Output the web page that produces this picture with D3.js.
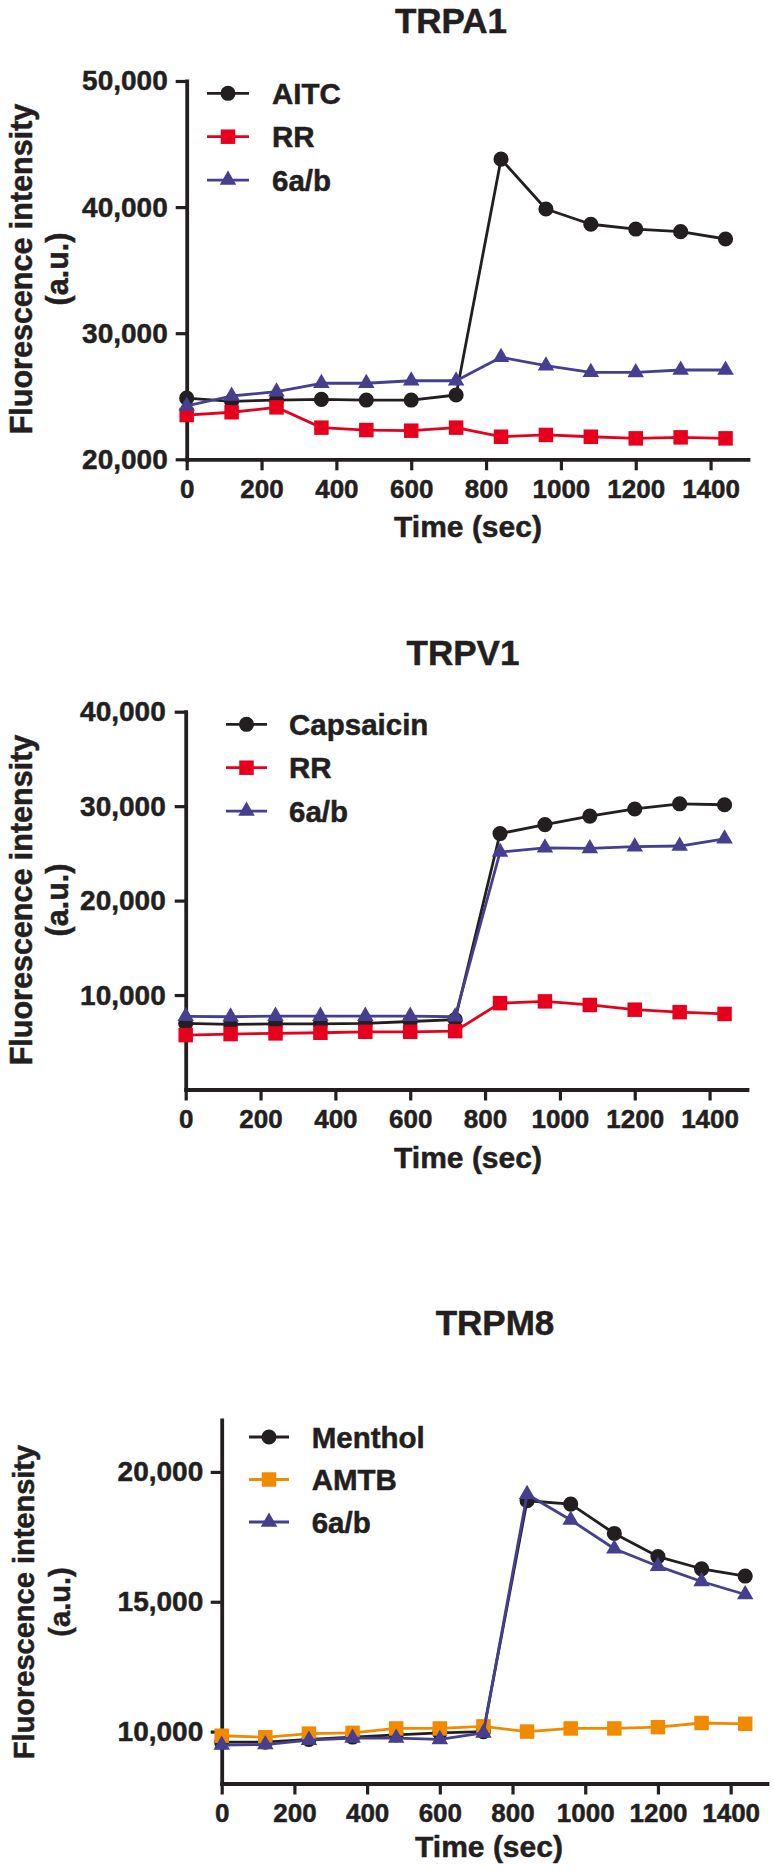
<!DOCTYPE html>
<html>
<head>
<meta charset="utf-8">
<script src="https://cdn.jsdelivr.net/npm/d3@7"></script>
<style>
  body { margin: 0; background: #fff; }
  svg text { font-family: "Liberation Sans", Arial, sans-serif; font-weight: bold; fill: #231f20;
             stroke: #231f20; stroke-width: 0.5px; }
</style>
</head>
<body>
<svg id="fig" width="774" height="1876"></svg>
<script>
// time points (sec) and x tick labels, shared by the three panels
var times = [0, 120, 240, 360, 480, 600, 720, 840, 960, 1080, 1200, 1320, 1440];
var xTicks = [0, 200, 400, 600, 800, 1000, 1200, 1400];

// TRPA1
var trpa1Names = ["AITC", "RR", "6a/b"];
var trpa1AITC = [24850, 24600, 24700, 24750, 24700, 24700, 25100, 43800, 39850, 38640, 38260, 38050, 37470];
var trpa1RR = [23510, 23730, 24120, 22510, 22320, 22270, 22510, 21790, 21930, 21790, 21660, 21740, 21660];
var trpa1Cpd = [24230, 25020, 25360, 26030, 26030, 26230, 26230, 28090, 27420, 26900, 26890, 27080, 27080];
var trpa1YTicks = [20000, 30000, 40000, 50000];

// TRPV1
var trpv1Names = ["Capsaicin", "RR", "6a/b"];
var trpv1Cap = [7000, 6900, 6950, 6950, 7000, 7200, 7400, 27100, 28050, 28950, 29700, 30250, 30150];
var trpv1RR = [5760, 5870, 5940, 6010, 6110, 6110, 6180, 9140, 9330, 8950, 8450, 8190, 8000];
var trpv1Cpd = [7750, 7700, 7770, 7770, 7770, 7770, 7700, 25140, 25590, 25520, 25710, 25780, 26540];
var trpv1YTicks = [10000, 20000, 30000, 40000];

// TRPM8
var trpm8Names = ["Menthol", "AMTB", "6a/b"];
var trpm8Menthol = [9590, 9590, 9700, 9790, 9870, 9950, 10000, 18890, 18760, 17630, 16740, 16270, 15990];
var trpm8AMTB = [9840, 9780, 9920, 9950, 10120, 10120, 10200, 10000, 10120, 10120, 10170, 10330, 10300];
var trpm8Cpd = [9480, 9500, 9670, 9750, 9750, 9700, 9950, 19140, 18150, 17040, 16370, 15780, 15280];
var trpm8YTicks = [10000, 15000, 20000];

var black = "#231f20", red = "#e6001e", blue = "#463f90", orange = "#f28a00";
var ink = "#231f20";

var svg = d3.select("#fig");

function drawPanel(cfg) {
  var g = svg.append("g");
  var x = d3.scaleLinear().domain([0, 1500]).range(cfg.xRange);
  var y = d3.scaleLinear().domain(cfg.yDomain).range(cfg.yRange);

  // title
  g.append("text").attr("x", cfg.titleX).attr("y", cfg.titleY)
    .attr("text-anchor", "middle").style("font-size", "35px").text(cfg.title);

  // axes
  var xAxis = d3.axisBottom(x).tickValues(xTicks).tickSize(11).tickSizeOuter(0).tickPadding(9).tickFormat(d3.format("d"));
  var yAxis = d3.axisLeft(y).tickValues(cfg.yTicks).tickSize(11).tickSizeOuter(0).tickPadding(cfg.yPad).tickFormat(d3.format(","));

  var gx = g.append("g").attr("transform", "translate(0," + cfg.yRange[0] + ")").call(xAxis);
  var gy = g.append("g").attr("transform", "translate(" + cfg.xRange[0] + ",0)").call(yAxis);
  [gx, gy].forEach(function(a) {
    a.select(".domain").attr("stroke", ink).attr("stroke-width", 3.8).attr("stroke-linecap", "square");
    a.selectAll(".tick line").attr("stroke", ink).attr("stroke-width", 3.2);
    a.selectAll(".tick text").attr("fill", ink).style("font-family", "'Liberation Sans', Arial, sans-serif").style("font-weight", "bold");
  });
  gx.selectAll(".tick text").style("font-size", "26px");
  gy.selectAll(".tick text").style("font-size", "28px");

  // axis titles
  g.append("text").attr("x", cfg.xLabelX).attr("y", cfg.xLabelY).attr("text-anchor", "middle")
    .style("font-size", "30px").text("Time (sec)");
  g.append("text").attr("transform", "translate(" + cfg.yLabX[0] + "," + cfg.yLabY + ") rotate(-90)")
    .attr("text-anchor", "middle").style("font-size", cfg.yLabSize + "px").text("Fluorescence intensity");
  g.append("text").attr("transform", "translate(" + cfg.yLabX[1] + "," + cfg.yLabY + ") rotate(-90)")
    .attr("text-anchor", "middle").style("font-size", cfg.yLabSize + "px").text("(a.u.)");

  var line = d3.line().x(function(d) { return x(d[0]); }).y(function(d) { return y(d[1]); });
  var symbols = [d3.symbolCircle, d3.symbolSquare, d3.symbolTriangle];
  var sizes = [180, 210, 118];

  cfg.series.forEach(function(s, i) {
    var pts = times.map(function(t, j) { return [t, s.values[j]]; });
    g.append("path").attr("d", line(pts)).attr("fill", "none")
      .attr("stroke", s.color).attr("stroke-width", 2.8).attr("stroke-linejoin", "round");
    g.selectAll(null).data(pts).enter().append("path")
      .attr("d", d3.symbol().type(symbols[i]).size(sizes[i]))
      .attr("transform", function(d) { return "translate(" + x(d[0]) + "," + y(d[1]) + ")"; })
      .attr("fill", s.color);

    // legend row
    var ly = cfg.legY + i * cfg.legStep;
    g.append("line").attr("x1", cfg.legX[0]).attr("x2", cfg.legX[1]).attr("y1", ly).attr("y2", ly)
      .attr("stroke", s.color).attr("stroke-width", 2.8);
    g.append("path").attr("d", d3.symbol().type(symbols[i]).size(sizes[i]))
      .attr("transform", "translate(" + (cfg.legX[0] + cfg.legX[1]) / 2 + "," + ly + ")").attr("fill", s.color);
    g.append("text").attr("x", cfg.legTextX).attr("y", ly + 10.5).style("font-size", "29.5px").text(s.name);
  });
}

drawPanel({
  title: "TRPA1", titleX: 451, titleY: 33,
  xRange: [186.7, 748], yDomain: [20000, 50000], yRange: [459.3, 81], yTicks: trpa1YTicks, yPad: 8,
  xLabelX: 468, xLabelY: 537,
  yLabX: [32, 68], yLabY: 269, yLabSize: 30.5,
  legX: [207, 249], legTextX: 272, legY: 93.3, legStep: 43.4,
  series: [
    { name: trpa1Names[0], values: trpa1AITC, color: black },
    { name: trpa1Names[1], values: trpa1RR, color: red },
    { name: trpa1Names[2], values: trpa1Cpd, color: blue }
  ]
});

drawPanel({
  title: "TRPV1", titleX: 463, titleY: 665,
  xRange: [185.7, 747], yDomain: [0, 40000], yRange: [1089.5, 711.7], yTicks: trpv1YTicks, yPad: 9,
  xLabelX: 468, xLabelY: 1168,
  yLabX: [32, 68], yLabY: 900, yLabSize: 30.5,
  legX: [226, 267], legTextX: 289, legY: 724.3, legStep: 43.4,
  series: [
    { name: trpv1Names[0], values: trpv1Cap, color: black },
    { name: trpv1Names[1], values: trpv1RR, color: red },
    { name: trpv1Names[2], values: trpv1Cpd, color: blue }
  ]
});

drawPanel({
  title: "TRPM8", titleX: 495, titleY: 1335,
  xRange: [221.7, 767], yDomain: [8000, 22000], yRange: [1783.5, 1420], yTicks: trpm8YTicks, yPad: 7.5,
  xLabelX: 489, xLabelY: 1857,
  yLabX: [34, 70], yLabY: 1602, yLabSize: 29,
  legX: [249, 289], legTextX: 311.7, legY: 1437, legStep: 42.5,
  series: [
    { name: trpm8Names[0], values: trpm8Menthol, color: black },
    { name: trpm8Names[1], values: trpm8AMTB, color: orange },
    { name: trpm8Names[2], values: trpm8Cpd, color: blue }
  ]
});
</script>
</body>
</html>
